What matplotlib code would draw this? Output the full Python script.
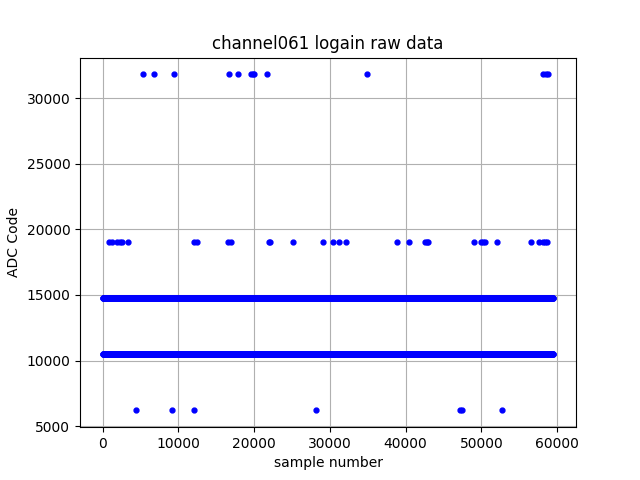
import numpy as np
import matplotlib
matplotlib.use("Agg")
import matplotlib.pyplot as plt

# two dense levels the signal sits on for the whole run
band_levels = [10460, 14750]
band_first_sample = 0
band_last_sample = 59500

# sparse outliers, (sample number, ADC code)
high_x = [5400, 6850, 9450, 16700, 17900, 19650, 19850, 20000, 21700,
          34850, 58100, 58500, 58800]
high_y = [31800] * len(high_x)

mid_x = [800, 1300, 1900, 2300, 2600, 3300, 12100, 12500, 16500, 17000,
         21900, 22100, 25100, 29100, 30400, 31200, 32150, 38800, 40400,
         42500, 42800, 43000, 48950, 49900, 50200, 50500, 52000, 56600,
         57600, 58100, 58400, 58700]
mid_y = [19030] * len(mid_x)

low_x = [4400, 9200, 12100, 28150, 47200, 47400, 52750]
low_y = [6200] * len(low_x)


def main() -> None:
    fig, ax = plt.subplots(figsize=(6.4, 4.8), dpi=100)

    samples = np.arange(band_first_sample, band_last_sample + 1, 50)
    for level in band_levels:
        ax.plot(samples, np.full(len(samples), level), 'b.', markersize=7)

    ax.plot(high_x, high_y, 'b.', markersize=7)
    ax.plot(mid_x, mid_y, 'b.', markersize=7)
    ax.plot(low_x, low_y, 'b.', markersize=7)

    ax.set_title('channel061 logain raw data')
    ax.set_xlabel('sample number')
    ax.set_ylabel('ADC Code')
    ax.grid(True)

    fig.savefig('out.png')


main()
